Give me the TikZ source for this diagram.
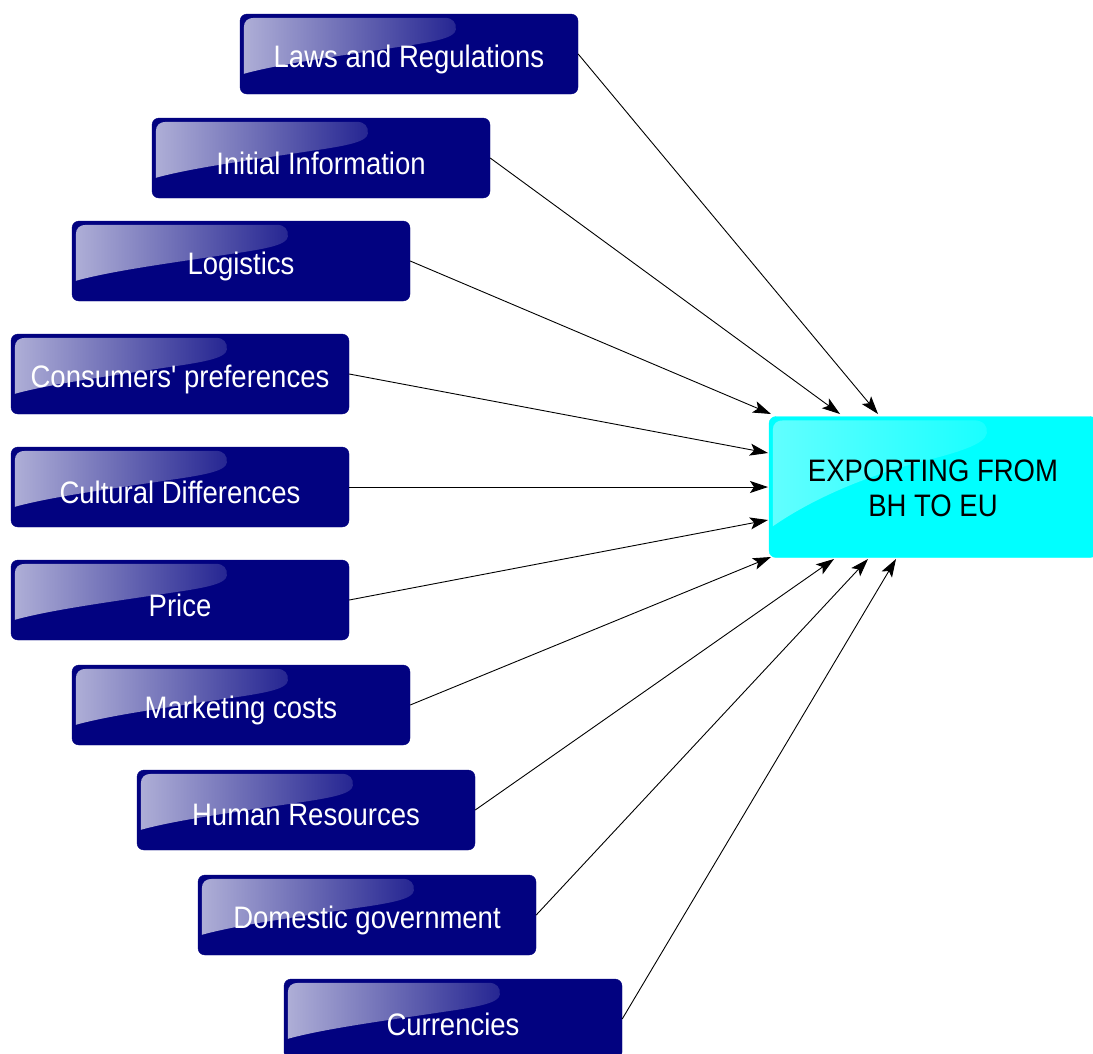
\documentclass[tikz,border=0pt]{standalone}
\usepackage{fontspec}
\setmainfont{Liberation Sans}[Ligatures=TeXOff]
\usetikzlibrary{arrows.meta}
\definecolor{navybox}{RGB}{2,2,128}
\definecolor{cyanbox}{RGB}{0,255,255}
\tikzset{
  factor/.style={draw=navybox, fill=navybox, rounded corners=7pt, minimum width=338pt, minimum height=80pt, text=white, inner sep=0pt},
  target/.style={draw=cyanbox, fill=cyanbox, rounded corners=7pt, minimum width=328pt, minimum height=141pt, text=black, inner sep=0pt},
  ftext/.style={text=white, inner sep=0pt, yshift=-5pt, font=\fontsize{27.5}{32}\selectfont},
  ttext/.style={text=black, inner sep=0pt, align=center, yshift=-1pt, font=\fontsize{27.5}{33}\selectfont},
  link/.style={-{Stealth[length=18pt,width=12pt,inset=4pt]}, line width=0.9pt, black}
}
\newcommand{\stretchy}[1]{\scalebox{1}[1.13]{#1}}
\newcommand{\glossnavy}[1]{%
  \begin{scope}[shift={(#1.north west)}]
    \shade[left color=white!68!navybox, right color=white!14!navybox]
      (4,60) -- (4,14) .. controls (4,7) and (8,4) .. (15,4) -- (205,4)
      .. controls (213,4) and (217,9) .. (216,16)
      .. controls (215,24) and (195,28) .. (160,33)
      .. controls (100,42) and (40,50) .. (4,60) -- cycle;
  \end{scope}}
\newcommand{\glosscyan}[1]{%
  \begin{scope}[shift={(#1.north west)}]
    \shade[left color=white!38!cyanbox, right color=white!10!cyanbox]
      (4,110) -- (4,14) .. controls (4,7) and (8,4) .. (15,4) -- (205,4)
      .. controls (215,4) and (219,10) .. (218,17)
      .. controls (216,28) and (190,36) .. (150,46)
      .. controls (90,62) and (40,85) .. (4,110) -- cycle;
  \end{scope}}
\begin{document}
\begin{tikzpicture}[x=1pt,y=-1pt]
\useasboundingbox (0,0) rectangle (1093,1053);
\clip (0,0) rectangle (1093,1053);
\fill[white] (0,0) rectangle (1093,1053);

\node[factor] (f1) at (409,54) {};
\node[factor] (f2) at (321,158) {};
\node[factor] (f3) at (241,261) {};
\node[factor] (f4) at (180,374) {};
\node[factor] (f5) at (180,487) {};
\node[factor] (f6) at (180,600) {};
\node[factor] (f7) at (241,705) {};
\node[factor] (f8) at (306,810) {};
\node[factor] (f9) at (367,915) {};
\node[factor] (f10) at (453,1019) {};
\node[target] (ex) at (933,487) {};

\foreach \n in {f1,f2,f3,f4,f5,f6,f7,f8,f9,f10} {\glossnavy{\n}}
\glosscyan{ex}

\node[ftext] at (f1) {\stretchy{Laws and Regulations}};
\node[ftext] at (f2) {\stretchy{Initial Information}};
\node[ftext] at (f3) {\stretchy{Logistics}};
\node[ftext] at (f4) {\stretchy{Consumers' preferences}};
\node[ftext] at (f5) {\stretchy{Cultural Differences}};
\node[ftext] at (f6) {\stretchy{Price}};
\node[ftext] at (f7) {\stretchy{Marketing costs}};
\node[ftext] at (f8) {\stretchy{Human Resources}};
\node[ftext] at (f9) {\stretchy{Domestic government}};
\node[ftext] at (f10) {\stretchy{Currencies}};
\node[ttext] at (ex) {\stretchy{EXPORTING FROM}\\[2pt]\stretchy{BH TO EU}};

\coordinate (t1) at (878,414);
\coordinate (t2) at (840,414);
\coordinate (t3) at (771,414);
\coordinate (t4) at (768,453);
\coordinate (t5) at (768,487);
\coordinate (t6) at (768,520);
\coordinate (t7) at (771,557);
\coordinate (t8) at (834,559);
\coordinate (t9) at (868,559);
\coordinate (t10) at (896,559);

\draw[link] (f1.east) -- (t1);
\draw[link] (f2.east) -- (t2);
\draw[link] (f3.east) -- (t3);
\draw[link] (f4.east) -- (t4);
\draw[link] (f5.east) -- (t5);
\draw[link] (f6.east) -- (t6);
\draw[link] (f7.east) -- (t7);
\draw[link] (f8.east) -- (t8);
\draw[link] (f9.east) -- (t9);
\draw[link] (f10.east) -- (t10);
\end{tikzpicture}
\end{document}
